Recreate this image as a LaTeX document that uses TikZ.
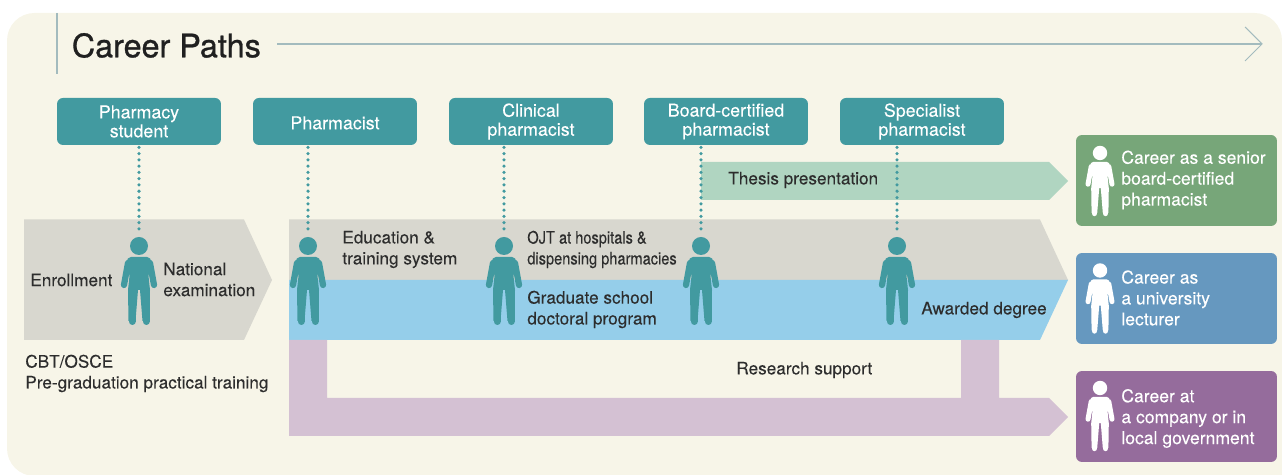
\documentclass[tikz,border=0pt]{standalone}
\usepackage{fontspec}
\setmainfont{TeX Gyre Heros}[FakeBold=0.08]
\newfontfamily\titlefont{TeX Gyre Heros}[FakeBold=0.9]
\definecolor{P}{RGB}{247, 245, 232}
\definecolor{T}{RGB}{66, 154, 160}
\definecolor{L}{RGB}{163, 187, 190}
\definecolor{K}{RGB}{216, 215, 207}
\definecolor{S}{RGB}{149, 206, 234}
\definecolor{M}{RGB}{212, 193, 211}
\definecolor{H}{RGB}{176, 213, 193}
\definecolor{G}{RGB}{119, 166, 121}
\definecolor{B}{RGB}{102, 152, 191}
\definecolor{V}{RGB}{149, 108, 156}
\definecolor{X}{RGB}{45, 45, 45}
\tikzset{
  rolebox/.style={fill=T, text=white, rounded corners=3.4pt, minimum width=3.28cm, minimum height=0.94cm, inner sep=0pt, align=center, font=\fontsize{10.15}{10.8}\selectfont, execute at begin node={\rule{0pt}{9pt}}},
  careerbox/.style={rounded corners=3.4pt, minimum width=4.02cm, minimum height=1.82cm, inner sep=0pt},
  careertext/.style={text=white, anchor=west, inner sep=0pt, align=left, font=\fontsize{10}{11.9}\selectfont},
  label/.style={text=X, anchor=west, inner sep=0pt, align=left, font=\fontsize{9.78}{11.9}\selectfont},
  dotline/.style={T, line width=2pt, line cap=round, dash pattern=on 0pt off 3.57pt, shorten <=0.04cm}
}
\newcommand{\person}[4]{
  \begin{scope}[shift={(#1,#2)}, scale=#3]
    \fill[#4] (0,0) circle (9);
    \fill[#4] (-8,11) -- (8,11) .. controls (11,11) and (12,13) .. (12,17) -- (9.5,30) -- (11,44) -- (10.5,75) -- (3.5,75) -- (1,44) -- (-1,44) -- (-3.5,75) -- (-10.5,75) -- (-11,44) -- (-9.5,30) -- (-12,17) .. controls (-12,13) and (-11,11) .. (-8,11) -- cycle;
    \draw[#4, line width=#3*0.125cm, line cap=round] (-11,17) -- (-15,39);
    \draw[#4, line width=#3*0.125cm, line cap=round] (11,17) -- (15,39);
    \draw[#4, line width=#3*0.14cm, line cap=round] (-7,45) -- (-7,75.5);
    \draw[#4, line width=#3*0.14cm, line cap=round] (7,45) -- (7,75.5);
  \end{scope}
}
\begin{document}
\begin{tikzpicture}[x=0.02cm, y=-0.02cm]
  \useasboundingbox (0,0) rectangle (1282,475);
  \fill[P] (1282,476) [rounded corners=0.55cm] -- (7,476) -- (7,13) -- (1282,13) [sharp corners] -- cycle;

  % title
  \draw[L, line width=0.6pt] (57,13) -- (57,74);
  \node[anchor=west, inner sep=0pt, text=X!70!black, font=\fontsize{18.4}{20}\titlefont] (title) at (71.5,45.5) {Career Paths};
  \coordinate (lineStart) at (277,44);
  \coordinate (lineEnd) at (1262,44);
  \draw[L, line width=0.6pt] (lineStart) -- (lineEnd);
  \draw[L, line width=0.6pt] (1245,27) -- (lineEnd) -- (1245,61);

  % bands
  \fill[K] (24,219.5) -- (244,219.5) -- (272,280) -- (244,340) -- (24,340) -- cycle;
  \fill[K] (289,219.5) -- (1040,219.5) -- (1068,280) -- (289,280) -- cycle;
  \fill[S] (289,280) -- (1068,280) -- (1040,340) -- (289,340) -- cycle;
  \fill[H] (701,162) -- (1049,162) -- (1068,181) -- (1049,200) -- (701,200) -- cycle;
  \fill[M] (289,340) -- (327,340) -- (327,398) -- (961,398) -- (961,340) -- (999,340) -- (999,398) -- (1049,398) -- (1068,417) -- (1049,436) -- (289,436) -- cycle;

  % roles
  \node[rolebox] (student) at (139,121.5) {Pharmacy\\student};
  \node[rolebox] (pharmacist) at (335,121.5) {Pharmacist};
  \node[rolebox] (clinical) at (531,121.5) {Clinical\\pharmacist};
  \node[rolebox] (board) at (726,121.5) {Board-certified\\pharmacist};
  \node[rolebox] (specialist) at (922,121.5) {Specialist\\pharmacist};

  \coordinate (headStudent) at (139,232);
  \coordinate (headPharmacist) at (308,232);
  \coordinate (headClinical) at (504,232);
  \coordinate (headBoard) at (701,232);
  \coordinate (headSpecialist) at (897,232);
  \draw[dotline] (student.south) -- (headStudent);
  \draw[dotline] (headPharmacist |- pharmacist.south) -- (headPharmacist);
  \draw[dotline] (headClinical |- clinical.south) -- (headClinical);
  \draw[dotline] (headBoard |- board.south) -- (headBoard);
  \draw[dotline] (headSpecialist |- specialist.south) -- (headSpecialist);

  \person{139}{246}{1}{T}
  \person{308}{246}{1}{T}
  \person{504}{246}{1}{T}
  \person{701}{246}{1}{T}
  \person{897}{246}{1}{T}

  % band labels
  \node[label] (enrollment) at (30,280) {Enrollment};
  \node[label] (national) at (163,279.5) {National\\examination};
  \node[label] (cbt) at (25,373.5) {CBT/OSCE\\Pre-graduation practical training};
  \node[label] (education) at (342,249.5) {Education \&\\training system};
  \node[label] (ojt) at (527,249.5) {\scalebox{0.85}[1]{OJT at hospitals \&}\\\scalebox{0.85}[1]{dispensing pharmacies}};
  \node[label] (graduate) at (527,309.5) {Graduate school\\doctoral program};
  \node[label] (awarded) at (921,310) {Awarded degree};
  \node[label] (thesis) at (728,180) {Thesis presentation};
  \node[label] (research) at (736,370) {Research support};

  % careers
  \node[careerbox, fill=G] (senior) at (1176.5,180.5) {};
  \node[careerbox, fill=B] (lecturer) at (1176.5,298.5) {};
  \node[careerbox, fill=V] (company) at (1176.5,416.5) {};
  \person{1100}{153}{0.8}{white}
  \person{1100}{270.5}{0.8}{white}
  \person{1100}{388}{0.8}{white}
  \node[careertext] (seniorText) at (1121,180) {Career as a senior\\board-certified\\pharmacist};
  \node[careertext] (lecturerText) at (1121,298) {Career as\\a university\\lecturer};
  \node[careertext] (companyText) at (1121,418.5) {Career at\\a company or in\\local government};
\end{tikzpicture}
\end{document}
